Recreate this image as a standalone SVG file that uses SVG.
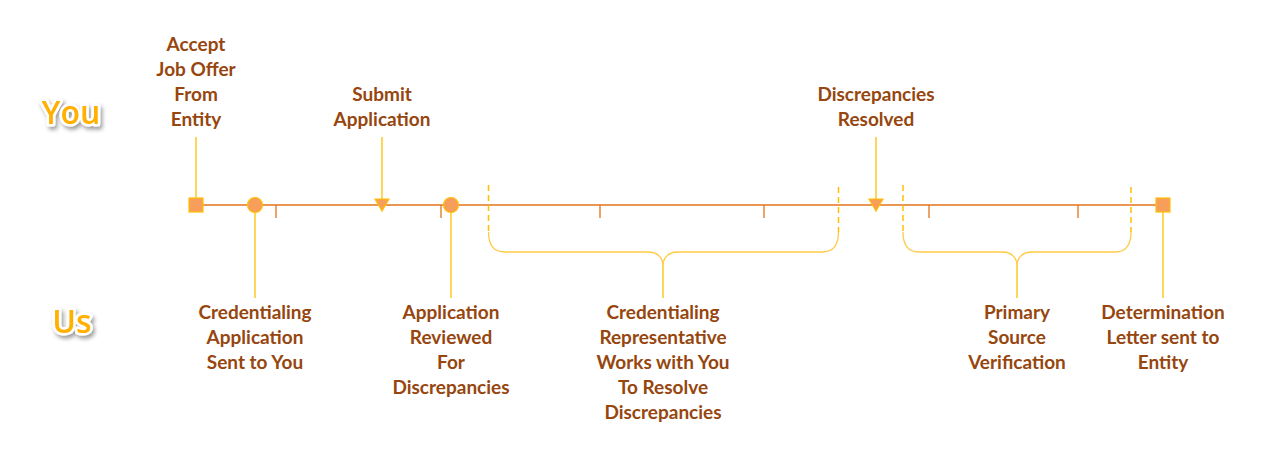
<svg xmlns="http://www.w3.org/2000/svg" width="1266" height="463" viewBox="0 0 1266 463">
<defs>
<style>
.lbl{font-family:Lato,"Liberation Sans",sans-serif;font-weight:bold;font-size:19px;fill:#96460E;text-anchor:middle}
.who{font-family:"Open Sans","Liberation Sans",sans-serif;font-weight:600;font-size:32px;fill:#FFB000;stroke:#FFFFFF;stroke-width:5;stroke-linejoin:round;paint-order:stroke;text-anchor:middle;filter:url(#sh)}
.axis{stroke:#E2731E;stroke-width:1.3;fill:none}
.conn{stroke:#FFC000;stroke-width:1.3;fill:none}
.dash{stroke:#FFC000;stroke-width:1.5;stroke-dasharray:6,4;fill:none}
.brace{stroke:#FFCB45;stroke-width:1.3;fill:none}
.mk{fill:#F79E5A;stroke:#FFC000;stroke-width:1.2}
</style>
<filter id="sh" x="-30%" y="-30%" width="160%" height="160%">
<feDropShadow dx="2" dy="3" stdDeviation="2.2" flood-color="#000" flood-opacity="0.4"/>
</filter>
</defs>
<rect width="1266" height="463" fill="#FFFFFF"/>
<text class="who" x="71" y="124">You</text>
<text class="who" x="72" y="333">Us</text>
<g id="connectors">
<line class="axis" x1="196" y1="205" x2="1163" y2="205"/>
<line class="axis" x1="276" y1="205" x2="276" y2="218"/>
<line class="axis" x1="441" y1="205" x2="441" y2="218"/>
<line class="axis" x1="600" y1="205" x2="600" y2="218"/>
<line class="axis" x1="764" y1="205" x2="764" y2="218"/>
<line class="axis" x1="929" y1="205" x2="929" y2="218"/>
<line class="axis" x1="1078" y1="205" x2="1078" y2="218"/>
<line class="conn" x1="196" y1="137" x2="196" y2="198"/>
<line class="conn" x1="382" y1="137" x2="382" y2="199"/>
<line class="conn" x1="876" y1="137" x2="876" y2="199"/>
<line class="conn" x1="255" y1="212" x2="255" y2="298"/>
<line class="conn" x1="451" y1="212" x2="451" y2="298"/>
<line class="conn" x1="663" y1="263" x2="663" y2="298"/>
<line class="conn" x1="1017" y1="263" x2="1017" y2="298"/>
<line class="conn" x1="1163" y1="212" x2="1163" y2="298"/>
<line class="dash" x1="488.5" y1="185" x2="488.5" y2="232"/>
<line class="dash" x1="838.5" y1="187" x2="838.5" y2="232"/>
<line class="dash" x1="903" y1="185" x2="903" y2="232"/>
<line class="dash" x1="1131" y1="187" x2="1131" y2="232"/>
<path class="brace" d="M488.5,232 Q488.5,252 505,252 L648,252 Q660,252 663,263 Q666,252 678,252 L822,252 Q838.5,252 838.5,232"/>
<path class="brace" d="M903,232 Q903,252 919,252 L1002,252 Q1014,252 1017,263 Q1020,252 1032,252 L1115,252 Q1131,252 1131,232"/>
</g>
<g id="n-accept">
<rect class="mk" x="189" y="198" width="14" height="14"/>
<text class="lbl" x="196" y="51">Accept</text>
<text class="lbl" x="196" y="76">Job Offer</text>
<text class="lbl" x="196" y="101">From</text>
<text class="lbl" x="196" y="126">Entity</text>
</g>
<g id="n-credapp">
<circle class="mk" cx="255" cy="205" r="7.5"/>
<text class="lbl" x="255" y="319">Credentialing</text>
<text class="lbl" x="255" y="344">Application</text>
<text class="lbl" x="255" y="369">Sent to You</text>
</g>
<g id="n-submit">
<path class="mk" d="M375,199 L389,199 L382,211 Z" stroke="none"/>
<text class="lbl" x="382" y="101">Submit</text>
<text class="lbl" x="382" y="126">Application</text>
</g>
<g id="n-reviewed">
<circle class="mk" cx="451" cy="205" r="7.5"/>
<text class="lbl" x="451" y="319">Application</text>
<text class="lbl" x="451" y="344">Reviewed</text>
<text class="lbl" x="451" y="369">For</text>
<text class="lbl" x="451" y="394">Discrepancies</text>
</g>
<g id="n-rep">
<text class="lbl" x="663" y="319">Credentialing</text>
<text class="lbl" x="663" y="344">Representative</text>
<text class="lbl" x="663" y="369">Works with You</text>
<text class="lbl" x="663" y="394">To Resolve</text>
<text class="lbl" x="663" y="419">Discrepancies</text>
</g>
<g id="n-resolved">
<path class="mk" d="M869,199 L883,199 L876,211 Z" stroke="none"/>
<text class="lbl" x="876" y="101">Discrepancies</text>
<text class="lbl" x="876" y="126">Resolved</text>
</g>
<g id="n-psv">
<text class="lbl" x="1017" y="319">Primary</text>
<text class="lbl" x="1017" y="344">Source</text>
<text class="lbl" x="1017" y="369">Verification</text>
</g>
<g id="n-determination">
<rect class="mk" x="1156" y="198" width="14" height="14"/>
<text class="lbl" x="1163" y="319">Determination</text>
<text class="lbl" x="1163" y="344">Letter sent to</text>
<text class="lbl" x="1163" y="369">Entity</text>
</g>
</svg>
